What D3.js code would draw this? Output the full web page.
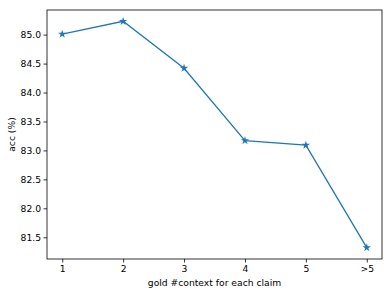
<!DOCTYPE html>
<html>
<head>
<meta charset="utf-8">
<script src="https://cdn.jsdelivr.net/npm/d3@7"></script>
<style>
  body { margin: 0; background: #fff; overflow: hidden; }
  svg { display: block; }
  text { font-family: 'DejaVu Sans', sans-serif; fill: #000; }
</style>
</head>
<body>
<script>
// categories and accuracy values
const categories = ['1', '2', '3', '4', '5', '>5'];
const accValues = [85.01, 85.23, 84.42, 83.17, 83.09, 81.32];
const yTicks = [81.5, 82.0, 82.5, 83.0, 83.5, 84.0, 84.5, 85.0];

const width = 392;
const height = 295;
const margin = { top: 10, right: 10, bottom: 36, left: 47 };
const innerWidth = width - margin.left - margin.right;
const innerHeight = height - margin.top - margin.bottom;
const fontSize = '9.2px';

const svg = d3.select('body').append('svg')
  .attr('width', width)
  .attr('height', height);

const g = svg.append('g')
  .attr('transform', `translate(${margin.left}, ${margin.top})`);

// matplotlib-like 5% padding on each side
const xScale = d3.scaleLinear()
  .domain([-0.25, categories.length - 0.75])
  .range([0, innerWidth]);

const yMin = d3.min(accValues), yMax = d3.max(accValues);
const pad = (yMax - yMin) * 0.05;
const yScale = d3.scaleLinear()
  .domain([yMin - pad, yMax + pad])
  .range([innerHeight, 0]);

const xAxis = d3.axisBottom(xScale)
  .tickValues(d3.range(categories.length))
  .tickFormat(i => categories[i])
  .tickSize(3.5)
  .tickPadding(2.5)
  .tickSizeOuter(0);

const yAxis = d3.axisLeft(yScale)
  .tickValues(yTicks)
  .tickFormat(d3.format('.1f'))
  .tickSize(3.5)
  .tickPadding(2.5)
  .tickSizeOuter(0);

const xAxisG = g.append('g')
  .attr('transform', `translate(0, ${innerHeight})`)
  .call(xAxis);
const yAxisG = g.append('g').call(yAxis);

[xAxisG, yAxisG].forEach(a => {
  a.select('.domain').remove();
  a.selectAll('line').attr('stroke', '#000').attr('stroke-width', 0.8);
  a.selectAll('text').style('font-size', fontSize).style('font-family', "'DejaVu Sans', sans-serif");
});

// frame
g.append('rect')
  .attr('width', innerWidth)
  .attr('height', innerHeight)
  .attr('fill', 'none')
  .attr('stroke', '#000')
  .attr('stroke-width', 0.8);

const line = d3.line()
  .x((d, i) => xScale(i))
  .y(d => yScale(d));

g.append('path')
  .datum(accValues)
  .attr('fill', 'none')
  .attr('stroke', '#1f77b4')
  .attr('stroke-width', 1.3)
  .attr('d', line);

g.selectAll('.marker').data(accValues)
  .enter().append('path')
  .attr('class', 'marker')
  .attr('d', d3.symbol().type(d3.symbolStar).size(22))
  .attr('transform', (d, i) => `translate(${xScale(i)}, ${yScale(d)})`)
  .attr('fill', '#1f77b4');

svg.append('text')
  .attr('x', margin.left + innerWidth / 2)
  .attr('y', 286)
  .attr('text-anchor', 'middle')
  .style('font-size', fontSize)
  .text('gold #context for each claim');

svg.append('text')
  .attr('transform', `translate(14.5, ${margin.top + innerHeight / 2}) rotate(-90)`)
  .attr('text-anchor', 'middle')
  .style('font-size', fontSize)
  .text('acc (%)');
</script>
</body>
</html>
